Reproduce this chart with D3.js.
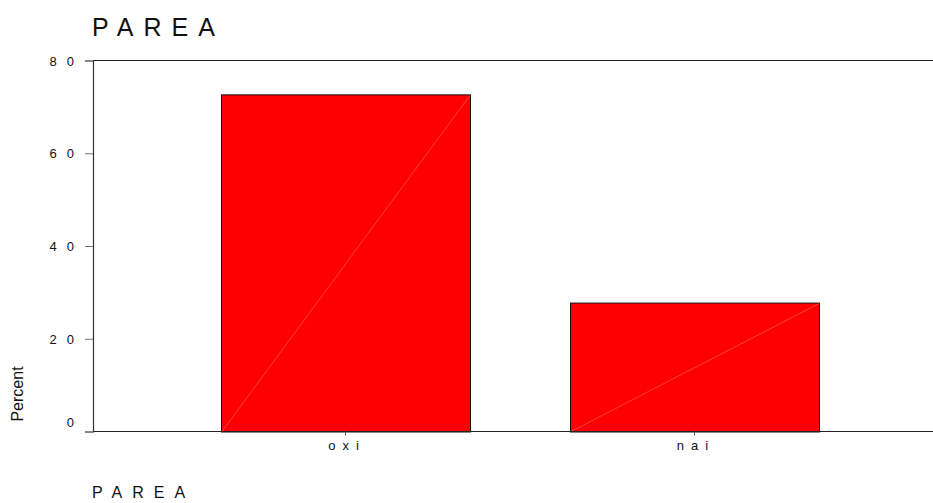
<!DOCTYPE html>
<html>
<head>
<meta charset="utf-8">
<script src="https://cdn.jsdelivr.net/npm/d3@7"></script>
<style>
  body { margin: 0; background: #fff; }
  svg { display: block; }
  text { font-family: "Liberation Sans", Arial, sans-serif; fill: #111; }
</style>
</head>
<body>
<svg id="chart" width="933" height="503"></svg>
<script>
const categories = ["oxi", "nai"];
const percentValues = [72.7, 27.8];
const yTickValues = [0, 20, 40, 60, 80];
const titleText = "PAREA";
const yAxisLabel = "Percent";
const xAxisLabel = "PAREA";

(function () {
const svg = d3.select("#chart");
const plotLeft = 93, plotRight = 933, plotTop = 60.5, plotBottom = 431.5;
const FONT = '"Liberation Sans", Arial, sans-serif';

const x = d3.scaleBand()
  .domain(categories)
  .range([171, 869])
  .paddingInner(0.2865)
  .paddingOuter(0.1433);

const y = d3.scaleLinear().domain([0, 80]).range([plotBottom, plotTop]);

// Title
svg.append("text")
  .attr("x", 92).attr("y", 36)
  .attr("font-size", 25)
  .style("letter-spacing", "10px")
  .text(titleText);

// Bars
const bars = svg.append("g");
categories.forEach((c, i) => {
  const bx = x(c), bw = x.bandwidth(), by = y(percentValues[i]), b0 = y(0);
  bars.append("rect")
    .attr("x", bx + 0.5).attr("y", by + 0.5)
    .attr("width", bw).attr("height", b0 - by)
    .attr("fill", "#ff0000")
    .attr("stroke", "#111").attr("stroke-width", 1);
  bars.append("line")
    .attr("x1", bx + 1).attr("y1", b0)
    .attr("x2", bx + bw).attr("y2", by + 1)
    .attr("stroke", "#ff5a5a").attr("stroke-width", 0.7);
});

// Frame lines: top, bottom
svg.append("line").attr("x1", plotLeft).attr("x2", plotRight).attr("y1", plotTop).attr("y2", plotTop)
  .attr("stroke", "#222").attr("stroke-width", 1.2);
svg.append("line").attr("x1", plotLeft).attr("x2", plotRight).attr("y1", plotBottom).attr("y2", plotBottom)
  .attr("stroke", "#222").attr("stroke-width", 1.2);

// Y axis
const yLs = 10;
const yAxis = d3.axisLeft(y).tickValues(yTickValues).tickSize(8).tickFormat(d => String(d));
const gy = svg.append("g").attr("transform", `translate(${plotLeft},0)`).call(yAxis);
gy.select(".domain").attr("stroke", "#333").attr("stroke-width", 1.2);
gy.selectAll(".tick line").attr("stroke", "#777");
gy.selectAll(".tick text")
  .attr("font-size", 13).attr("fill", "#111").attr("font-family", FONT)
  .style("letter-spacing", yLs + "px")
  .attr("x", -19 + yLs)
  .attr("dy", d => d === 0 ? "-0.35em" : "0.35em");

// X axis
const xLs = 7;
const xAxis = d3.axisBottom(x).tickSize(4).tickFormat(d => d);
const gx = svg.append("g").attr("transform", `translate(0,${plotBottom})`).call(xAxis);
gx.select(".domain").remove();
gx.selectAll(".tick line").attr("stroke", "#555");
gx.selectAll(".tick text")
  .attr("font-size", 13).attr("fill", "#111").attr("font-family", FONT)
  .style("letter-spacing", xLs + "px")
  .attr("x", xLs / 2 - 2)
  .attr("y", 18.5).attr("dy", 0);

// Y label
svg.append("text")
  .attr("transform", "translate(23,394) rotate(-90)")
  .attr("text-anchor", "middle")
  .attr("font-size", 16)
  .text(yAxisLabel);

// X label
svg.append("text")
  .attr("x", 92).attr("y", 498)
  .attr("font-size", 16)
  .style("letter-spacing", "10px")
  .text(xAxisLabel);
})();
</script>
</body>
</html>
